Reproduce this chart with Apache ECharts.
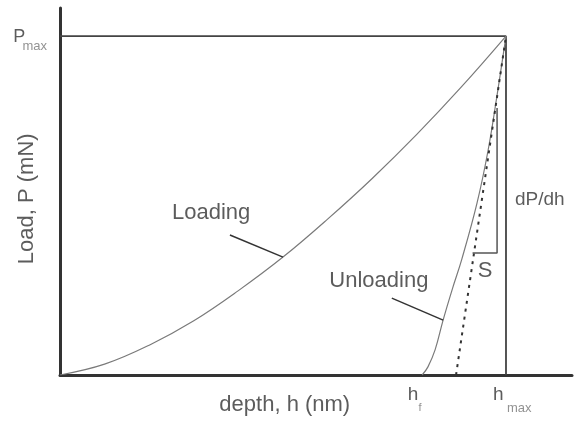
<!DOCTYPE html>
<html>
<head>
<meta charset="utf-8">
<script src="https://cdn.jsdelivr.net/npm/echarts@6/dist/echarts.min.js"></script>
<style>
  html, body { margin: 0; background: #fff; }
  #chart { width: 575px; height: 421px; }
</style>
</head>
<body>
<div id="chart"></div>
<script>
// depth / load in arbitrary units (h_max = 100, P_max = 100)
const loadDepth = [0, 10, 20, 30, 40, 50, 60, 70, 80, 90, 100];
const loadLoad  = [0, 3.2, 8.8, 16.0, 24.9, 34.8, 46.0, 58.0, 71.0, 85.0, 100];

const unloadDepth = [81.2, 82.5, 84.1, 85.9, 88.0, 90.1, 93.5, 96.0, 98.0, 100];
const unloadLoad  = [0, 2.4, 7.4, 16.2, 25.5, 34.2, 50.7, 66.4, 82.6, 100];

const tangentDepth = [88.8, 100];
const tangentLoad  = [0, 100];

const frameDepth = [0, 100, 100];
const frameLoad  = [100, 100, 0];

const stiffDepth = [92.5, 98.0, 98.0];
const stiffLoad  = [36.0, 36.0, 78.8];

const loadLeaderDepth = [38.1, 50.0];
const loadLeaderLoad  = [41.3, 34.8];
const unloadLeaderDepth = [74.4, 85.9];
const unloadLeaderLoad  = [22.7, 16.2];

// annotation texts
const noteText  = ['Loading', 'Unloading', 'S', 'dP/dh', 'P', 'max', 'h', 'f', 'h', 'max', 'depth, h (nm)', 'Load, P (mN)'];
const noteDepth = [33.9, 71.5, 95.3, 102.0, -10.5, -8.4, 78.0, 80.4, 97.1, 100.2, 50.4, -7.4];
const noteLoad  = [47.8, 27.7, 30.7, 51.6, 99.8, 97.0, -5.9, -9.8, -5.9, -9.8, -8.8, 52.0];
const noteSize  = [22, 22, 22, 19, 18, 13, 19, 11, 19, 13, 22, 22];
const noteAlign = ['center', 'center', 'center', 'left', 'left', 'left', 'left', 'left', 'left', 'left', 'center', 'center'];
const noteRotate = [0, 0, 0, 0, 0, 0, 0, 0, 0, 0, 0, 90];

const zip = (a, b) => a.map((v, i) => [v, b[i]]);

const chart = echarts.init(document.getElementById('chart'));

const plainLine = (data, color, width, type) => ({
  type: 'line',
  data: data,
  symbol: 'none',
  silent: true,
  lineStyle: { color: color, width: width, type: type || 'solid' }
});

const notes = noteText.map((t, i) => ({
  value: [noteDepth[i], noteLoad[i]],
  label: {
    show: true,
    position: 'inside',
    formatter: t,
    fontSize: noteSize[i],
    align: noteAlign[i],
    verticalAlign: 'middle',
    rotate: noteRotate[i],
    color: (t === 'max' || t === 'f') ? '#777' : '#333',
    fontFamily: 'Liberation Sans, Arial, sans-serif'
  }
}));

const option = {
  animation: false,
  backgroundColor: '#fff',
  grid: { left: 60, top: 8, width: 512, height: 367 },
  xAxis: {
    type: 'value',
    min: 0,
    max: 114.8,
    axisLine: { show: true, lineStyle: { color: '#333', width: 3 } },
    axisTick: { show: false },
    axisLabel: { show: false },
    splitLine: { show: false }
  },
  yAxis: {
    type: 'value',
    min: 0,
    max: 108.3,
    axisLine: { show: true, lineStyle: { color: '#333', width: 3 } },
    axisTick: { show: false },
    axisLabel: { show: false },
    splitLine: { show: false }
  },
  series: [
    plainLine(zip(frameDepth, frameLoad), '#444', 1.8),
    Object.assign(plainLine(zip(loadDepth, loadLoad), '#7a7a7a', 1.2), { smooth: 0.4 }),
    Object.assign(plainLine(zip(unloadDepth, unloadLoad), '#7a7a7a', 1.2), { smooth: 0.4 }),
    plainLine(zip(tangentDepth, tangentLoad), '#333', 2, [3, 5]),
    plainLine(zip(stiffDepth, stiffLoad), '#555', 1.5),
    plainLine(zip(loadLeaderDepth, loadLeaderLoad), '#333', 1.5),
    plainLine(zip(unloadLeaderDepth, unloadLeaderLoad), '#333', 1.5),
    {
      type: 'scatter',
      symbolSize: 0,
      clip: false,
      silent: true,
      data: notes
    }
  ]
};

chart.setOption(option);
</script>
</body>
</html>
